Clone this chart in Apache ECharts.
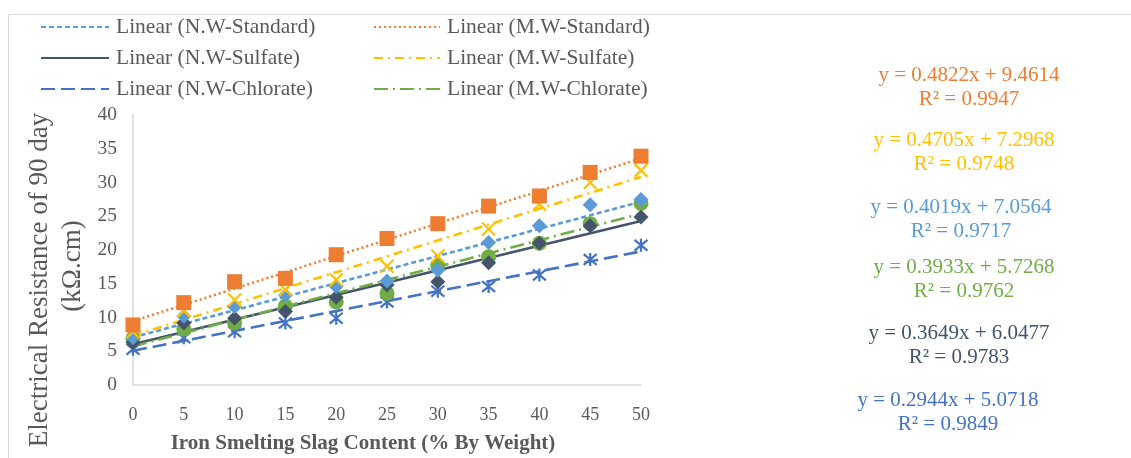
<!DOCTYPE html>
<html>
<head>
<meta charset="utf-8">
<script src="https://cdn.jsdelivr.net/npm/echarts@6/dist/echarts.min.js"></script>
<style>
html,body{margin:0;padding:0;background:#fff;}
#chart{width:1131px;height:458px;}
</style>
</head>
<body>
<div id="chart"></div>
<script>
// ---- data ----
const slagContent = [0, 5, 10, 15, 20, 25, 30, 35, 40, 45, 50];
const nwStandard = [7.0, 10.2, 11.6, 13.3, 14.6, 15.4, 17.0, 21.1, 23.6, 26.7, 27.5];
const mwStandard = [8.9, 12.2, 15.3, 15.8, 19.3, 21.7, 23.9, 26.5, 28.0, 31.5, 33.9];
const nwSulfate  = [6.3, 9.2, 9.9, 10.9, 13.0, 14.8, 15.3, 18.1, 21.0, 23.6, 24.9];
const mwSulfate  = [7.9, 11.0, 12.6, 14.1, 15.6, 17.6, 19.1, 23.1, 26.8, 30.0, 31.8];
const nwChlorate = [5.3, 7.0, 7.9, 9.2, 9.9, 12.3, 13.9, 14.6, 16.3, 18.6, 20.7];
const mwChlorate = [6.9, 8.3, 9.2, 11.7, 12.3, 13.6, 17.7, 19.0, 21.0, 23.9, 26.9];

// trend line equations as printed on the chart
const trendNames = ['N.W-Standard', 'M.W-Standard', 'N.W-Sulfate', 'M.W-Sulfate', 'N.W-Chlorate', 'M.W-Chlorate'];
const trendSlopes = [0.4019, 0.4822, 0.3649, 0.4705, 0.2944, 0.3933];
const trendIntercepts = [7.0564, 9.4614, 6.0477, 7.2968, 5.0718, 5.7268];
const trendR2 = [0.9717, 0.9947, 0.9783, 0.9748, 0.9849, 0.9762];

const xTicks = [0, 50, 5];
const yTicks = [0, 40, 5];

// ---- styles ----
const FONT = '"Liberation Serif", "Times New Roman", serif';
const colors = {
  'N.W-Standard': '#5B9BD5',
  'M.W-Standard': '#ED7D31',
  'N.W-Sulfate': '#44546A',
  'M.W-Sulfate': '#FFC000',
  'N.W-Chlorate': '#4472C4',
  'M.W-Chlorate': '#70AD47'
};
const dashes = {
  'N.W-Standard': [5, 3],
  'M.W-Standard': [2, 3],
  'N.W-Sulfate': 'solid',
  'M.W-Sulfate': [9, 5, 2, 5],
  'N.W-Chlorate': [14, 6],
  'M.W-Chlorate': [14, 5, 2, 5]
};
const dataSets = {
  'N.W-Standard': nwStandard,
  'M.W-Standard': mwStandard,
  'N.W-Sulfate': nwSulfate,
  'M.W-Sulfate': mwSulfate,
  'N.W-Chlorate': nwChlorate,
  'M.W-Chlorate': mwChlorate
};
const markers = {
  'N.W-Standard': {symbol: 'diamond', size: 15},
  'M.W-Standard': {symbol: 'rect', size: 15},
  'N.W-Sulfate': {symbol: 'diamond', size: 15},
  'M.W-Sulfate': {symbol: 'path://M0,0L10,10M10,0L0,10', size: 13, stroke: true},
  'N.W-Chlorate': {symbol: 'path://M0,0L10,10M10,0L0,10M5,-1L5,11', size: 13, stroke: true},
  'M.W-Chlorate': {symbol: 'circle', size: 15}
};
// drawing order (back to front)
const drawOrder = ['N.W-Chlorate', 'M.W-Chlorate', 'N.W-Sulfate', 'N.W-Standard', 'M.W-Sulfate', 'M.W-Standard'];

const series = [];
trendNames.forEach((name, k) => {
  const x0 = slagContent[0], x1 = slagContent[slagContent.length - 1];
  series.push({
    name: 'Linear (' + name + ')',
    type: 'line',
    symbol: 'none',
    z: 2,
    silent: true,
    lineStyle: {color: colors[name], width: 2.6, type: dashes[name]},
    itemStyle: {color: colors[name]},
    data: [[x0, trendSlopes[k] * x0 + trendIntercepts[k]], [x1, trendSlopes[k] * x1 + trendIntercepts[k]]]
  });
});
drawOrder.forEach(name => {
  const m = markers[name];
  const vals = dataSets[name];
  series.push({
    name: name,
    type: 'scatter',
    symbol: m.symbol,
    symbolSize: m.size,
    z: 3,
    itemStyle: m.stroke
      ? {color: 'rgba(0,0,0,0)', borderColor: colors[name], borderWidth: 2.2, opacity: 1}
      : {color: colors[name], opacity: 1},
    data: slagContent.map((x, i) => [x, vals[i]])
  });
});

// equation labels
const eqPos = {
  'M.W-Standard': [969, 75],
  'M.W-Sulfate': [964, 140],
  'N.W-Standard': [961, 207],
  'M.W-Chlorate': [964, 267],
  'N.W-Sulfate': [959, 333],
  'N.W-Chlorate': [948, 400]
};
const graphics = [
  {type: 'rect', shape: {x: 8.5, y: 14.5, width: 1200, height: 500}, style: {fill: 'none', stroke: '#D9D9D9', lineWidth: 1}, silent: true},
  {type: 'text', x: 363, y: 444, style: {text: 'Iron Smelting Slag Content (% By Weight)', font: 'bold 21px ' + FONT, fill: '#595959', textAlign: 'center', textVerticalAlign: 'middle'}},
  {type: 'text', x: 40, y: 280, rotation: Math.PI / 2, style: {text: 'Electrical Resistance of 90 day', font: '27px ' + FONT, fill: '#595959', textAlign: 'center', textVerticalAlign: 'middle'}},
  {type: 'text', x: 73, y: 266, rotation: Math.PI / 2, style: {text: '(kΩ.cm)', font: '27px ' + FONT, fill: '#595959', textAlign: 'center', textVerticalAlign: 'middle'}}
];
trendNames.forEach((name, k) => {
  const p = eqPos[name];
  graphics.push({type: 'text', x: p[0], y: p[1], style: {text: 'y = ' + trendSlopes[k].toFixed(4) + 'x + ' + trendIntercepts[k].toFixed(4), font: '21px ' + FONT, fill: colors[name], textAlign: 'center', textVerticalAlign: 'middle'}});
  graphics.push({type: 'text', x: p[0], y: p[1] + 24, style: {text: 'R² = ' + trendR2[k].toFixed(4), font: '21px ' + FONT, fill: colors[name], textAlign: 'center', textVerticalAlign: 'middle'}});
});

const legendCommon = {
  orient: 'vertical',
  padding: 0,
  itemHeight: 14,
  itemGap: 9,
  itemStyle: {opacity: 0},
  textStyle: {fontFamily: FONT, fontSize: 21.5, color: '#595959', padding: [0, 0, 0, 2]},
  selectedMode: false
};

const option = {
  animation: false,
  backgroundColor: '#fff',
  graphic: graphics,
  legend: [
    Object.assign({left: 40, top: 16, itemWidth: 68, data: ['Linear (N.W-Standard)', 'Linear (N.W-Sulfate)', 'Linear (N.W-Chlorate)']}, legendCommon),
    Object.assign({left: 373, top: 16, itemWidth: 66, data: ['Linear (M.W-Standard)', 'Linear (M.W-Sulfate)', 'Linear (M.W-Chlorate)']}, legendCommon)
  ],
  grid: {left: 133, right: 490, top: 115, bottom: 73},
  xAxis: {
    type: 'value', min: xTicks[0], max: xTicks[1], interval: xTicks[2],
    axisLine: {show: true, lineStyle: {color: '#D9D9D9', width: 1.5}},
    axisTick: {show: false},
    splitLine: {show: false},
    axisLabel: {color: '#595959', fontFamily: FONT, fontSize: 18, margin: 21}
  },
  yAxis: {
    type: 'value', min: yTicks[0], max: yTicks[1], interval: yTicks[2],
    axisLine: {show: true, lineStyle: {color: '#D9D9D9', width: 1.5}},
    axisTick: {show: false},
    splitLine: {show: false},
    axisLabel: {color: '#595959', fontFamily: FONT, fontSize: 19.5, margin: 16}
  },
  series: series
};

const chart = echarts.init(document.getElementById('chart'), null, {renderer: 'canvas'});
chart.setOption(option);
</script>
</body>
</html>
